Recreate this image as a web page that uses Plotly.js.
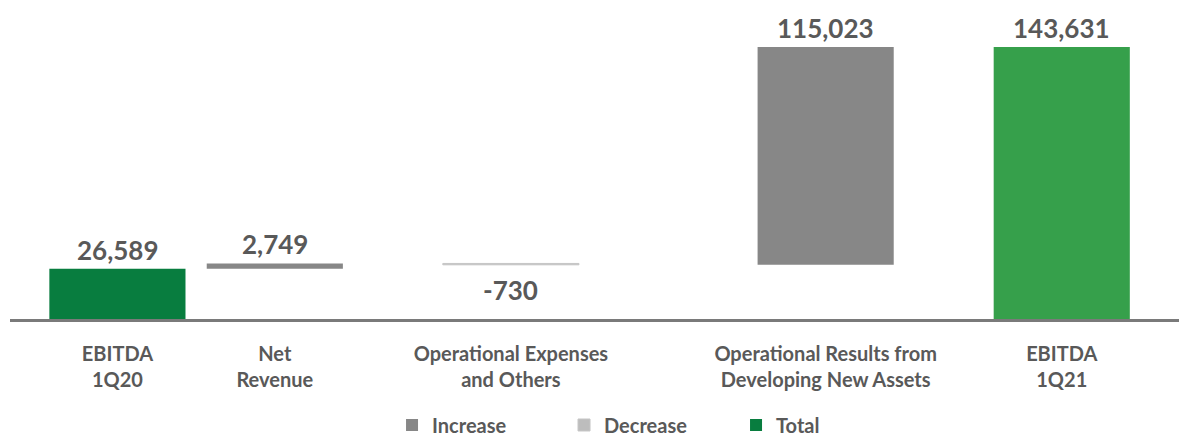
<!DOCTYPE html>
<html>
<head>
<meta charset="utf-8">
<script src="https://cdn.plot.ly/plotly-3.0.1.min.js"></script>
<style>html,body{margin:0;padding:0;background:#fff;}#chart{width:1179px;height:439px;}</style>
</head>
<body>
<div id="chart"></div>
<script>
// ---- data ----
const categories = [
  'EBITDA<br>1Q20',
  'Net<br>Revenue',
  'Operational Expenses<br>and Others',
  'Operational Results from<br>Developing New Assets',
  'EBITDA<br>1Q21'
];
const measures = ['total', 'relative', 'relative', 'relative', 'total'];
const values = [26589, 2749, -730, 115023, 143631];
const labels = ['26,589', '2,749', '-730', '115,023', '143,631'];
const legendNames = ['Increase', 'Decrease', 'Total'];

// ---- layout helpers (uneven category spacing of the original slide) ----
const slotOf = [0, 2, 5, 9, 12];        // slot index of each category on the axis
const nSlots = 13;
const catArray = [];
for (let s = 0, sp = 1; s < nSlots; s++) {
  const i = slotOf.indexOf(s);
  catArray.push(i >= 0 ? categories[i] : ' '.repeat(sp++));
}
const barWidth = 1.73;                   // in slot units

// ---- build waterfall pieces ----
const inc = {x: [], y: [], base: []};
const dec = {x: [], y: [], base: []};
const tot = {x: [], y: [], base: [], color: []};
const annotations = [];
let running = 0;
const totalColors = ['#087d3f', '#36a04b'];
let tIdx = 0;
const textColor = '#595959';
const FONT = 'Lato, "Open Sans", sans-serif';
categories.forEach((c, i) => {
  const v = values[i];
  let top, bottom;
  if (measures[i] === 'total') {
    tot.x.push(c); tot.y.push(v); tot.base.push(0); tot.color.push(totalColors[tIdx++]);
    running = v; top = v; bottom = 0;
  } else if (v >= 0) {
    inc.x.push(c); inc.y.push(v); inc.base.push(running);
    bottom = running; running += v; top = running;
  } else {
    dec.x.push(c); dec.y.push(v); dec.base.push(running);
    top = running; running += v; bottom = running;
  }
  const neg = v < 0;
  annotations.push({
    x: c, y: neg ? bottom : top, xref: 'x', yref: 'y',
    text: labels[i], showarrow: false,
    yanchor: 'middle', yshift: neg ? -25 : 19,
    font: {family: FONT, size: 26, color: textColor, weight: 700}
  });
});

const traces = [
  {type: 'bar', name: legendNames[0], x: inc.x, y: inc.y, base: inc.base, width: barWidth,
   marker: {color: '#878787', line: {width: 0}}, hoverinfo: 'skip'},
  {type: 'bar', name: legendNames[1], x: dec.x, y: dec.y, base: dec.base, width: barWidth,
   marker: {color: '#bdbdbd', line: {color: '#c6c6c6', width: 1}}, hoverinfo: 'skip'},
  {type: 'bar', name: legendNames[2], x: tot.x, y: tot.y, base: tot.base, width: barWidth,
   marker: {color: tot.color, line: {width: 0}}, hoverinfo: 'skip'}
];

const layout = {
  width: 1179, height: 439,
  margin: {l: 10, r: 0, t: 10, b: 120, autoexpand: false},
  paper_bgcolor: '#fff', plot_bgcolor: '#fff',
  barmode: 'overlay',
  showlegend: true,
  legend: {orientation: 'h', x: 0.3268, xanchor: 'left', y: -0.343, yanchor: 'middle',
           font: {family: FONT, size: 20, color: textColor, weight: 700},
           entrywidth: 127, entrywidthmode: 'pixels', itemgap: 5, traceorder: 'normal'},
  xaxis: {type: 'category', categoryorder: 'array', categoryarray: catArray,
          range: [-1.365, 13.49], showline: true, linecolor: '#7a7a7a', linewidth: 3,
          ticks: '', ticklabelstandoff: 15, tickangle: 0, automargin: false,
          showgrid: false, zeroline: false, fixedrange: true,
          tickfont: {family: FONT, size: 20, color: textColor, weight: 700}},
  yaxis: {range: [0, 163167], visible: false, showgrid: false, zeroline: false, fixedrange: true, automargin: false},
  annotations: annotations
};

Plotly.newPlot('chart', traces, layout, {displayModeBar: false, staticPlot: true});
</script>
</body>
</html>
